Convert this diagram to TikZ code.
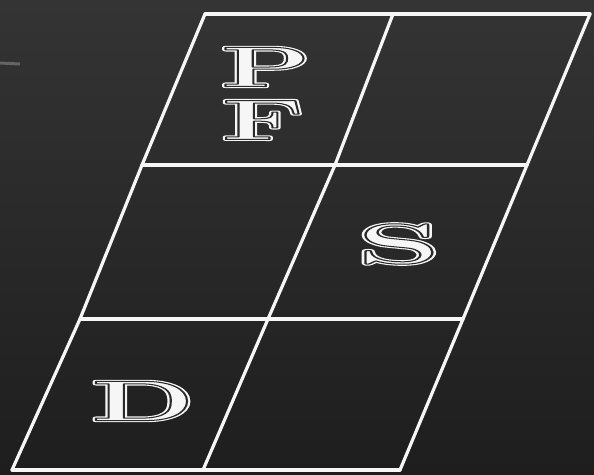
\documentclass[tikz,border=0pt]{standalone}
\usepackage{tikz}
\usepackage{graphicx}
\usepackage{xcolor}
\definecolor{board}{RGB}{42,42,42}
\definecolor{boardtop}{RGB}{52,52,52}
\definecolor{boardbot}{RGB}{30,30,30}
\definecolor{chalk}{RGB}{246,246,246}
\definecolor{smudge}{RGB}{100,100,100}
\newcommand{\chalkletter}[2][2.05]{\scalebox{#1}[1]{\rlap{\color{chalk}%
  \special{pdf:literal direct 2 Tr 3.2 w 1 j}#2\special{pdf:literal direct 0 Tr}}%
  {\color{board}\special{pdf:literal direct 1 Tr 1.0 w 1 j}#2\special{pdf:literal direct 0 Tr}}}}
\tikzset{
  gridline/.style={draw=chalk,line width=3.2pt,line cap=round,line join=round},
  letter/.style={inner sep=0pt,font=\fontsize{57}{57}\selectfont\bfseries},
}

\begin{document}
\begin{tikzpicture}[x=1pt,y=-1pt]
  \shade[top color=boardtop,bottom color=boardbot] (0,0) rectangle (594,474);
  \useasboundingbox (0,0) rectangle (594,474);
  % smudge at the left edge
  \draw[smudge,line width=3pt] (0,63) -- (20,64);
  % corners of the parallelogram grid, row by row
  \foreach \r/\y/\a/\b/\c in {0/14/205/393/590,1/165/142/335/527,
                              2/319/80/268/463,3/470/12/203/400}{
    \coordinate (g\r0) at (\a,\y);
    \coordinate (g\r1) at (\b,\y);
    \coordinate (g\r2) at (\c,\y);}
  % slanted columns
  \foreach \c in {0,1,2}
    {\draw[gridline] (g0\c) -- (g1\c) -- (g2\c) -- (g3\c);}
  % rows
  \foreach \r in {0,1,2,3}
    {\draw[gridline] (g\r0) -- (g\r2);}
  % letters
  \node[letter] (lp) at (266,67) {\chalkletter{P}};
  \node[letter] (lf) at (263,120) {\chalkletter{F}};
  \node[letter] (ls) at (399,244) {\chalkletter[2.35]{S}};
  \node[letter] (ld) at (143,401) {\chalkletter[2.1]{D}};
\end{tikzpicture}
\end{document}
